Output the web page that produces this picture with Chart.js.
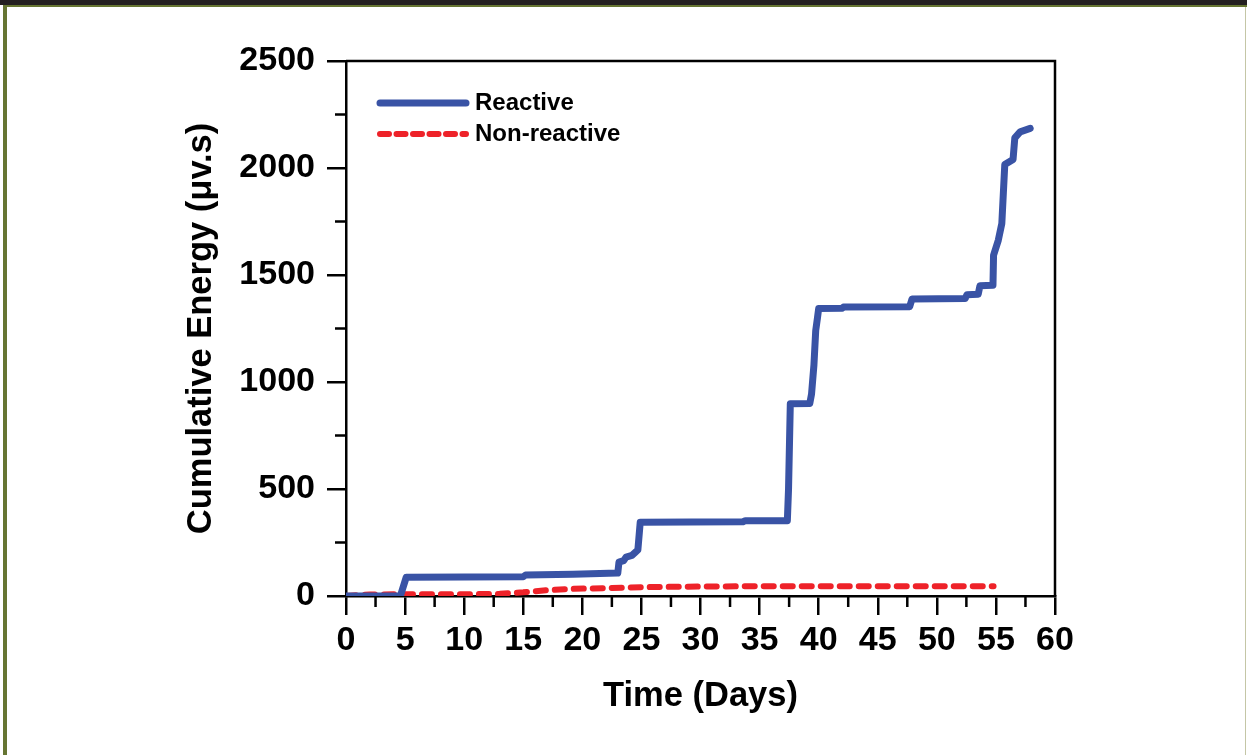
<!DOCTYPE html>
<html>
<head>
<meta charset="utf-8">
<title>Cumulative Energy</title>
<script src="https://cdn.jsdelivr.net/npm/chart.js@4.4.1/dist/chart.umd.min.js"></script>
<style>
  html, body { margin: 0; padding: 0; background: #fff; }
  .edge { position: absolute; }
  #topBar { left: 0; top: 0; width: 1247px; height: 5px; background: #231f20; }
  #topLine { left: 3px; top: 5px; width: 1244px; height: 2px; background: #667532; }
  #leftLine { left: 3px; top: 5px; width: 4px; height: 750px; background: #667532; }
  #rightLine { left: 1245px; top: 7px; width: 1px; height: 748px; background: #c4c6a6; }
  #wrap { position: absolute; left: 0; top: 0; width: 1247px; height: 755px; }
</style>
</head>
<body>
<div class="edge" id="topBar"></div>
<div class="edge" id="topLine"></div>
<div class="edge" id="leftLine"></div>
<div class="edge" id="rightLine"></div>
<div id="wrap"><canvas id="energy" width="1247" height="755"></canvas></div>
<script>
// cumulative AE energy, reactive specimen
var reactiveDays = [0, 4.6, 5.1, 15.0, 15.2, 19.2, 23.0, 23.1, 23.5, 23.7, 24.2, 24.5, 24.7, 24.9,
    33.6, 33.8, 37.35, 37.45, 37.6, 39.25, 39.4, 39.6, 39.75, 39.9, 40.0, 42.0, 42.1, 47.7, 47.9,
    52.4, 52.55, 53.5, 53.65, 54.75, 54.8, 55.2, 55.5, 55.75, 56.45, 56.6, 57.05, 57.9];
var reactiveEnergy = [0, 0, 88, 90, 98, 102, 107, 158, 165, 182, 190, 205, 215, 345,
    347, 352, 352, 500, 898, 900, 945, 1080, 1240, 1300, 1343, 1345, 1350, 1352, 1388,
    1390, 1408, 1410, 1450, 1452, 1592, 1662, 1741, 2016, 2040, 2141, 2169, 2185];

// non-reactive specimen
var nonReactiveDays = [0, 1, 2, 5, 10, 13, 15, 17, 19, 22, 26, 30, 36, 45, 54.8];
var nonReactiveEnergy = [0, 4, 7, 8, 8, 10, 17, 27, 33, 37, 42, 44, 46, 46, 46];

var xTicks = { min: 0, max: 60, step: 5 };
var yTicks = { min: 0, max: 2500, step: 500 };

function toPoints(xs, ys) {
    return xs.map(function (x, i) { return { x: x, y: ys[i] }; });
}

var fontFamily = '"Liberation Sans", Arial, sans-serif';

// closes the box and adds the short half-step ticks
var boxAndMinorTicks = {
    id: 'boxAndMinorTicks',
    beforeDatasetsDraw: function (chart) {
        var ctx = chart.ctx;
        var area = chart.chartArea;
        var xs = chart.scales.x, ys = chart.scales.y;
        ctx.save();
        ctx.strokeStyle = '#000';
        ctx.lineWidth = 2.5;
        ctx.beginPath();
        ctx.moveTo(area.left, area.top);
        ctx.lineTo(area.right, area.top);
        ctx.lineTo(area.right, area.bottom);
        for (var v = xTicks.min + xTicks.step / 2; v < xTicks.max; v += xTicks.step) {
            var px = xs.getPixelForValue(v);
            ctx.moveTo(px, area.bottom);
            ctx.lineTo(px, area.bottom + 11);
        }
        for (var w = yTicks.min + yTicks.step / 2; w < yTicks.max; w += yTicks.step) {
            var py = ys.getPixelForValue(w);
            ctx.moveTo(area.left, py);
            ctx.lineTo(area.left - 11, py);
        }
        ctx.stroke();
        ctx.restore();
    }
};

// legend drawn inside the plot, top left
var insideLegend = {
    id: 'insideLegend',
    afterDraw: function (chart) {
        var ctx = chart.ctx;
        var area = chart.chartArea;
        var x0 = area.left + 34, y0 = area.top + 42;
        ctx.save();
        chart.data.datasets.forEach(function (ds, i) {
            var y = y0 + i * 31;
            ctx.beginPath();
            ctx.strokeStyle = ds.borderColor;
            ctx.lineWidth = ds.borderWidth;
            ctx.lineCap = 'round';
            ctx.setLineDash(ds.legendDash || []);
            ctx.moveTo(x0, y);
            ctx.lineTo(x0 + 86, y);
            ctx.stroke();
            ctx.setLineDash([]);
            ctx.fillStyle = '#000';
            ctx.font = 'bold 24px ' + fontFamily;
            ctx.textBaseline = 'middle';
            ctx.fillText(ds.label, x0 + 95, y);
        });
        ctx.restore();
    }
};

function plainNumber(value) { return String(value); }

var ctx = document.getElementById('energy').getContext('2d');
var energyChart = new Chart(ctx, {
    type: 'line',
    data: {
        datasets: [{
            label: 'Reactive',
            data: toPoints(reactiveDays, reactiveEnergy),
            borderColor: '#3953a5',
            borderWidth: 7,
            pointRadius: 0,
            tension: 0,
            borderJoinStyle: 'round',
            borderCapStyle: 'round'
        }, {
            label: 'Non-reactive',
            data: toPoints(nonReactiveDays, nonReactiveEnergy),
            borderColor: '#ee2229',
            borderWidth: 6,
            borderDash: [10, 9],
            legendDash: [9, 7.5],
            pointRadius: 0,
            tension: 0,
            borderJoinStyle: 'round',
            borderCapStyle: 'round'
        }]
    },
    options: {
        responsive: false,
        animation: false,
        layout: { padding: { top: 61, right: 192, left: 0, bottom: 0 } },
        plugins: {
            legend: { display: false },
            tooltip: { enabled: false }
        },
        scales: {
            x: {
                type: 'linear',
                min: xTicks.min,
                max: xTicks.max,
                afterFit: function (scale) { scale.height = 159; },
                ticks: {
                    stepSize: xTicks.step,
                    padding: 5,
                    color: '#000',
                    callback: plainNumber,
                    font: { family: fontFamily, size: 34, weight: 'bold' }
                },
                grid: {
                    drawOnChartArea: false,
                    tickLength: 19,
                    lineWidth: 2.5,
                    color: '#000'
                },
                border: { display: true, color: '#000', width: 2.5 },
                title: {
                    display: true,
                    text: 'Time (Days)',
                    color: '#000',
                    padding: { bottom: 38 },
                    font: { family: fontFamily, size: 34.5, weight: 'bold' }
                }
            },
            y: {
                type: 'linear',
                min: yTicks.min,
                max: yTicks.max,
                afterFit: function (scale) { scale.width = 346; },
                ticks: {
                    stepSize: yTicks.step,
                    padding: 12,
                    color: '#000',
                    callback: plainNumber,
                    font: { family: fontFamily, size: 34, weight: 'bold' }
                },
                grid: {
                    drawOnChartArea: false,
                    tickLength: 19,
                    lineWidth: 2.5,
                    color: '#000'
                },
                border: { display: true, color: '#000', width: 2.5 },
                title: {
                    display: true,
                    text: 'Cumulative Energy (\u03bcv.s)',
                    color: '#000',
                    padding: { top: 181 },
                    font: { family: fontFamily, size: 34.5, weight: 'bold' }
                }
            }
        }
    },
    plugins: [boxAndMinorTicks, insideLegend]
});
</script>
</body>
</html>
